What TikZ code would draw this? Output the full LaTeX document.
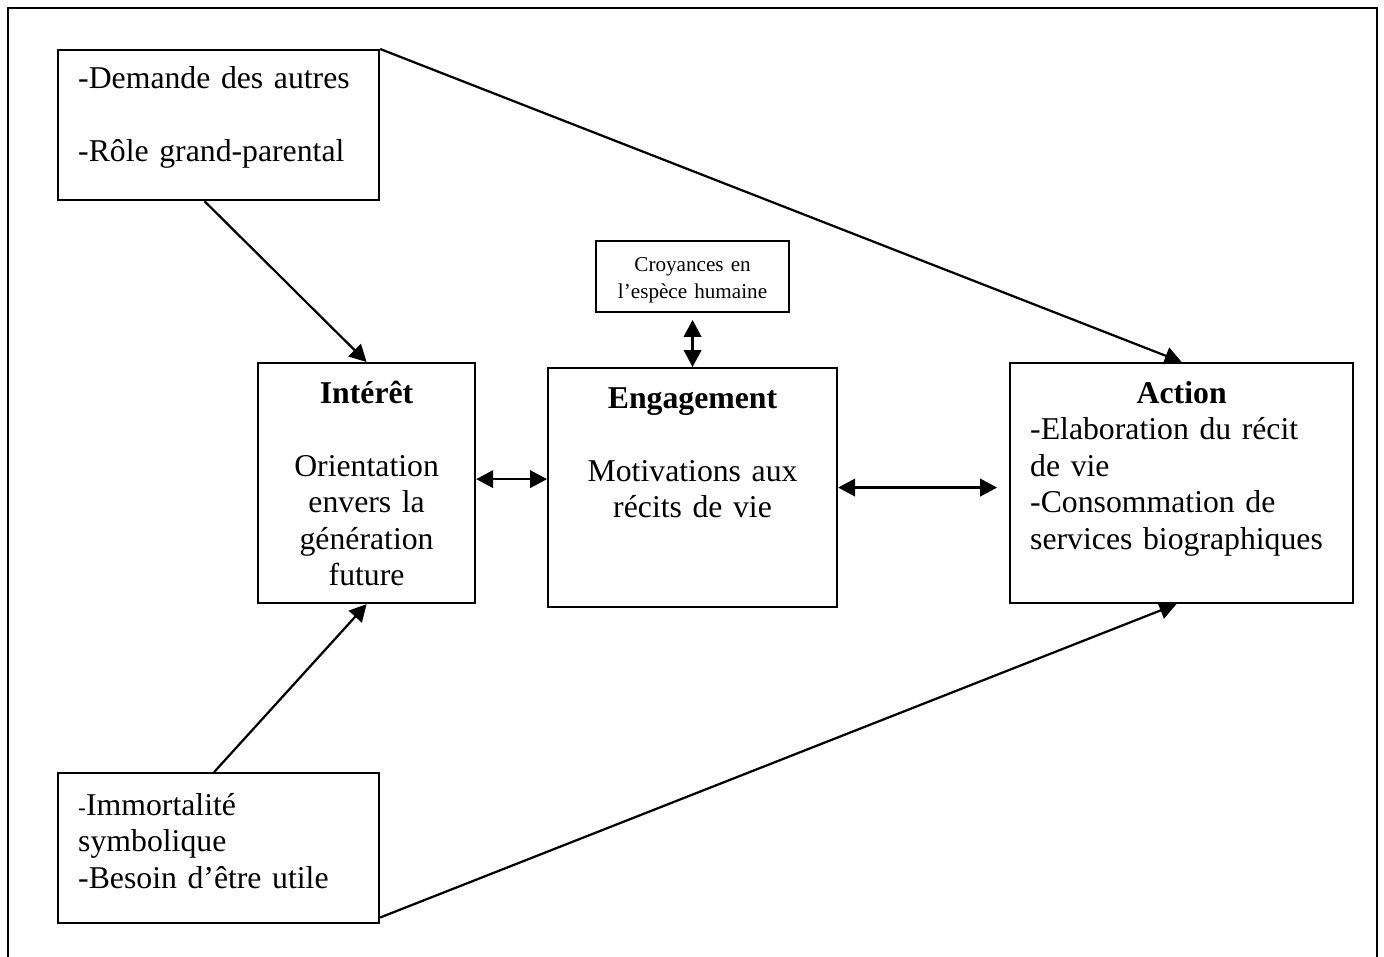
\documentclass[tikz,border=0pt]{standalone}
\usepackage{fontspec}
\setmainfont{Liberation Serif}
\usetikzlibrary{arrows.meta, positioning}

\begin{document}
\begin{tikzpicture}[
  x=0.378pt, y=-0.378pt,
  box/.style={rectangle, draw=black, line width=0.85pt, anchor=north west, inner xsep=7.6pt, inner ysep=0pt, font=\fontsize{12}{13.8}\selectfont},
  smallbox/.style={box, inner xsep=3pt, font=\fontsize{8}{10.2}\selectfont},
  arrow/.style={line width=0.85pt,->,>={Triangle[length=6.4pt,width=6.6pt]}},
  dblarrow/.style={arrow,<->}]

  \useasboundingbox (0,0) rectangle (1384,957);
  % Cadre
  \draw [line width=0.85pt] (8,957) -- (8,8) -- (1377,8) -- (1377,957);

  % Nodes
  \node (demande) [box, text width=106.1pt, text height=14.4pt, text depth=42.3pt, align=left] at (57,49) {-Demande des autres\\[13.8pt]-Rôle grand-parental};
  \node (immortalite) [box, below=215.8pt of demande, text width=106.1pt, text height=15.9pt, text depth=40.8pt, align=left] {{\fontsize{9}{10}\selectfont -}Immortalité\\symbolique\\-Besoin d’être utile};
  \node (interet) [box, text width=66.8pt, text height=15.1pt, text depth=75.6pt, align=center] at (257,362) {\textbf{Intérêt}\\[13.8pt]Orientation\\envers la\\génération\\future};
  \node (engagement) [box, text width=94pt, text height=15.1pt, text depth=75.2pt, align=center] at (547,367) {\textbf{Engagement}\\[13.8pt]Motivations aux\\récits de vie};
  \node (croyances) [smallbox, above=20.4pt of engagement, text width=67pt, text height=11.7pt, text depth=15.1pt, align=center] {Croyances en\\l’espèce humaine};
  \node (action) [box, text width=114.5pt, text height=15.1pt, text depth=75.6pt, align=left] at (1009,362) {\makebox[\linewidth]{\textbf{Action}}\\-Elaboration du récit\\de vie\\-Consommation de\\services biographiques};

  % Arrows
  \draw [arrow] ([xshift=-5.3pt]demande.south) -- (interet.north);
  \draw [arrow] (demande.north east) -- (action.north);
  \draw [arrow] ([xshift=-1.7pt]immortalite.north) -- (interet.south);
  \draw [arrow] ([yshift=2.6pt]immortalite.south east) -- ([xshift=-2pt]action.south);
  \draw [dblarrow] ([yshift=1.5pt]interet.east) -- ([yshift=1.5pt]interet.east -| engagement.west);
  \draw [dblarrow] (engagement.east) -- ([xshift=-4.5pt]engagement.east -| action.west);
  \draw [dblarrow] ([yshift=-2.6pt]croyances.south) -- (croyances.south |- engagement.north);

\end{tikzpicture}
\end{document}
